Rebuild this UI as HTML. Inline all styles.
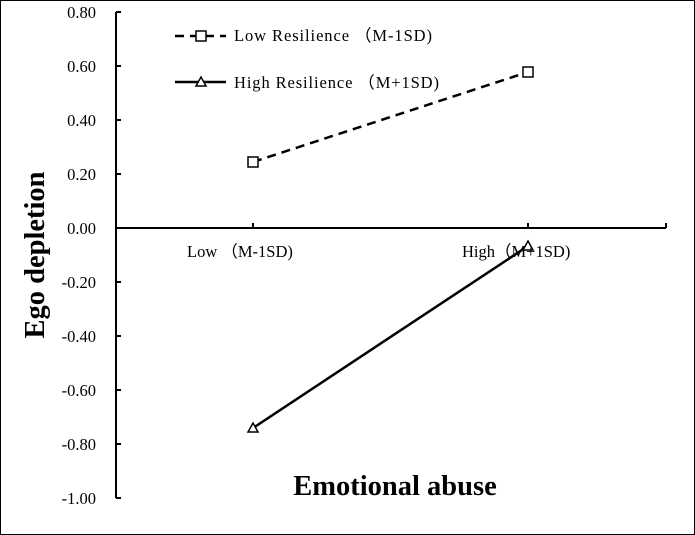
<!DOCTYPE html>
<html><head><meta charset="utf-8"><style>
body{margin:0;background:#fff}
svg{display:block}
text{font-family:"Liberation Serif",serif;fill:#000}
</style></head><body>
<svg width="695" height="535" viewBox="0 0 695 535">
<rect x="0.5" y="0.5" width="694" height="534" fill="#fff" stroke="#000" stroke-width="1"/>
<g stroke="#000" stroke-width="2" fill="none">
<line x1="116" y1="12" x2="116" y2="498"/>
<line x1="116" y1="228" x2="666" y2="228"/>
<line x1="116" y1="12" x2="121" y2="12"/>
<line x1="116" y1="66" x2="121" y2="66"/>
<line x1="116" y1="120" x2="121" y2="120"/>
<line x1="116" y1="174" x2="121" y2="174"/>
<line x1="116" y1="282" x2="121" y2="282"/>
<line x1="116" y1="336" x2="121" y2="336"/>
<line x1="116" y1="390" x2="121" y2="390"/>
<line x1="116" y1="444" x2="121" y2="444"/>
<line x1="116" y1="498" x2="121" y2="498"/>
<line x1="253" y1="228" x2="253" y2="223"/>
<line x1="528" y1="228" x2="528" y2="223"/>
<line x1="666" y1="228" x2="666" y2="223"/>
<line x1="253" y1="162" x2="528" y2="72" stroke-dasharray="9,6" stroke-width="2.5"/>
<line x1="253" y1="428" x2="528" y2="246" stroke-width="2.5"/>
<line x1="175" y1="36" x2="226" y2="36" stroke-dasharray="9,6" stroke-width="2.5"/>
<line x1="175" y1="82" x2="226" y2="82" stroke-width="2.5"/>
</g>
<g stroke="#000" stroke-width="1.5" fill="#fff">
<rect x="248" y="157" width="10" height="10"/>
<rect x="523" y="67" width="10" height="10"/>
<rect x="196" y="31" width="10" height="10"/>
<polygon points="253,423 258,432 248,432"/>
<polygon points="528,241 533,250 523,250"/>
<polygon points="201,77 206,86 196,86"/>
</g>
<g font-size="16.5" text-anchor="end">
<text x="96" y="18">0.80</text>
<text x="96" y="72">0.60</text>
<text x="96" y="126">0.40</text>
<text x="96" y="180">0.20</text>
<text x="96" y="234">0.00</text>
<text x="96" y="288">-0.20</text>
<text x="96" y="342">-0.40</text>
<text x="96" y="396">-0.60</text>
<text x="96" y="450">-0.80</text>
<text x="96" y="504">-1.00</text>
</g>
<g font-size="16.5">
<text x="187" y="257">Low （M-1SD)</text>
<text x="462" y="257">High（M+1SD)</text>
<text x="234" y="41" textLength="198">Low Resilience （M-1SD)</text>
<text x="234" y="88" textLength="205">High Resilience （M+1SD)</text>
</g>
<text x="395" y="495" font-size="28.5" font-weight="bold" text-anchor="middle">Emotional abuse</text>
<text transform="translate(44,255) rotate(-90)" font-size="28.5" font-weight="bold" text-anchor="middle">Ego depletion</text>
</svg>
</body></html>
